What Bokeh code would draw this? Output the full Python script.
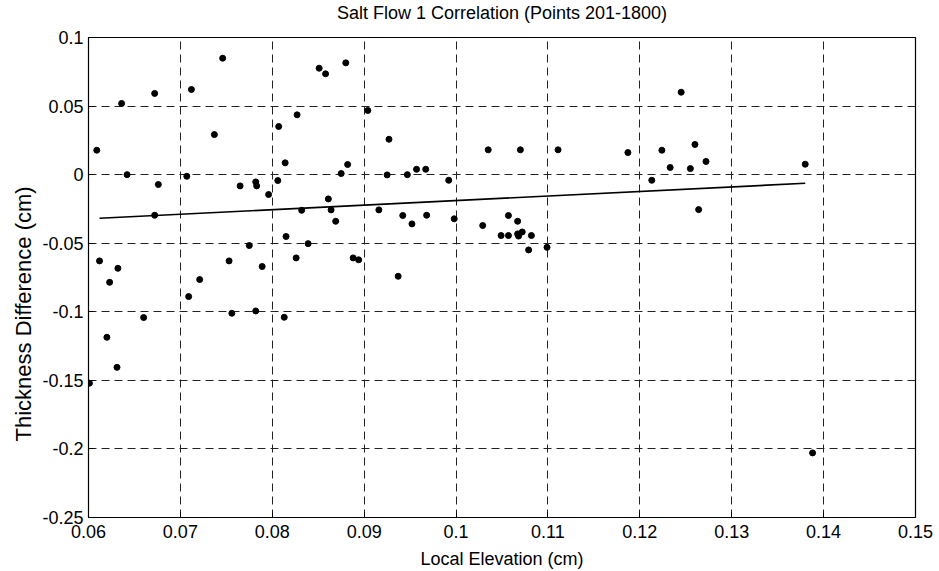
from bokeh.plotting import figure
from bokeh.models import FixedTicker, Title
from bokeh.embed import file_html
from bokeh.resources import INLINE

# ---- data ----
local_elevation = [
    0.0609, 0.0746, 0.0636, 0.0672, 0.0712, 0.0737, 0.0642, 0.0676, 0.0707, 0.0765,
    0.0782, 0.0783, 0.0796, 0.0806, 0.0807, 0.0814, 0.0827, 0.0851, 0.0858, 0.0880,
    0.0875, 0.0882, 0.0861, 0.0832, 0.0864, 0.0869, 0.0672, 0.0815, 0.0839, 0.0775,
    0.0612, 0.0632, 0.0753, 0.0789, 0.0826, 0.0888, 0.0894, 0.0623, 0.0721, 0.0709,
    0.0660, 0.0756, 0.0782, 0.0813, 0.0620, 0.0631, 0.0601, 0.0904, 0.0927, 0.1035,
    0.1070, 0.1111, 0.1187, 0.0925, 0.0947, 0.0957, 0.0967, 0.0992, 0.0916, 0.0942,
    0.0952, 0.0968, 0.0998, 0.1029, 0.1057, 0.1067, 0.1049, 0.1057, 0.1067, 0.1072,
    0.1068, 0.1082, 0.1079, 0.1099, 0.0937, 0.1245, 0.1224, 0.1260, 0.1233, 0.1255,
    0.1272, 0.1213, 0.1380, 0.1264, 0.1388,
]
thickness_difference = [
    0.0178, 0.0849, 0.0519, 0.0592, 0.0621, 0.0292, 0.0000, -0.0072, -0.0012, -0.0082,
    -0.0053, -0.0082, -0.0145, -0.0043, 0.0351, 0.0086, 0.0436, 0.0776, 0.0735, 0.0815,
    0.0008, 0.0074, -0.0177, -0.0260, -0.0257, -0.0340, -0.0296, -0.0451, -0.0503, -0.0517,
    -0.0629, -0.0683, -0.0629, -0.0670, -0.0607, -0.0607, -0.0621, -0.0785, -0.0765, -0.0889,
    -0.1042, -0.1011, -0.0994, -0.1040, -0.1186, -0.1405, -0.1521, 0.0468, 0.0258, 0.0181,
    0.0181, 0.0181, 0.0161, -0.0002, 0.0000, 0.0039, 0.0039, -0.0041, -0.0257, -0.0298,
    -0.0359, -0.0296, -0.0322, -0.0371, -0.0298, -0.0340, -0.0444, -0.0444, -0.0432, -0.0418,
    -0.0448, -0.0444, -0.0549, -0.0530, -0.0741, 0.0601, 0.0178, 0.0220, 0.0052, 0.0044,
    0.0096, -0.0041, 0.0076, -0.0255, -0.2029,
]
fit_x = [0.0612, 0.1380]
fit_y = [-0.0318, -0.0063]

x_ticks = [0.06, 0.07, 0.08, 0.09, 0.10, 0.11, 0.12, 0.13, 0.14, 0.15]
x_tick_labels = ["0.06", "0.07", "0.08", "0.09", "0.1", "0.11", "0.12", "0.13", "0.14", "0.15"]
y_ticks = [0.10, 0.05, 0.0, -0.05, -0.10, -0.15, -0.20, -0.25]
y_tick_labels = ["0.1", "0.05", "0", "-0.05", "-0.1", "-0.15", "-0.2", "-0.25"]

title_text = "Salt Flow 1 Correlation (Points 201-1800)"
x_label = "Local Elevation (cm)"
y_label = "Thickness Difference (cm)"

FONT = "Liberation Sans"

p = figure(width=939, height=571, output_backend="svg", toolbar_location=None,
           x_range=(0.06, 0.15), y_range=(-0.25, 0.1),
           min_border_left=88, min_border_right=24, min_border_top=37, min_border_bottom=53)
p.background_fill_color = "white"
p.border_fill_color = "white"
p.outline_line_color = "black"
p.outline_line_width = 1.2
p.title.text = ""

# spacer (closest to the frame) then the real title above it
p.add_layout(Title(text=" ", text_font_size="1px", standoff=12), "above")
p.add_layout(Title(text=title_text, align="center", text_font=FONT, text_font_size="18px",
                   text_font_style="normal", text_color="black", standoff=0), "above")

# grid
for g in (p.xgrid, p.ygrid):
    g.grid_line_color = "#222222"
    g.grid_line_dash = "8 5"
    g.grid_line_width = 1

p.xaxis.ticker = FixedTicker(ticks=x_ticks)
p.yaxis.ticker = FixedTicker(ticks=y_ticks)
p.xaxis.major_label_overrides = dict(zip(x_ticks, x_tick_labels))
p.yaxis.major_label_overrides = dict(zip(y_ticks, y_tick_labels))

for ax in (p.xaxis, p.yaxis):
    ax.axis_line_color = None
    ax.major_tick_in = 5
    ax.major_tick_out = 0
    ax.major_tick_line_color = "black"
    ax.minor_tick_line_color = None
    ax.major_label_text_font = FONT
    ax.major_label_text_font_size = "18px"
    ax.major_label_text_color = "black"
p.xaxis.major_label_standoff = 7
p.yaxis.major_label_standoff = 5

p.xaxis.axis_label = x_label
p.xaxis.axis_label_text_font = FONT
p.xaxis.axis_label_text_font_size = "18px"
p.xaxis.axis_label_text_font_style = "normal"
p.xaxis.axis_label_text_color = "black"
p.xaxis.axis_label_standoff = 8

# y label as a left-side title, anchored at its start so it sits where the reference has it
p.add_layout(Title(text=y_label, align="left", offset=76, text_font=FONT,
                   text_font_size="22px", text_font_style="normal", text_color="black",
                   standoff=8), "left")

# regression line and points
p.line(fit_x, fit_y, line_color="black", line_width=1.6)
p.scatter(local_elevation, thickness_difference, size=6, fill_color="black", line_color="black")

open("out.html", "w").write(file_html(p, INLINE))
